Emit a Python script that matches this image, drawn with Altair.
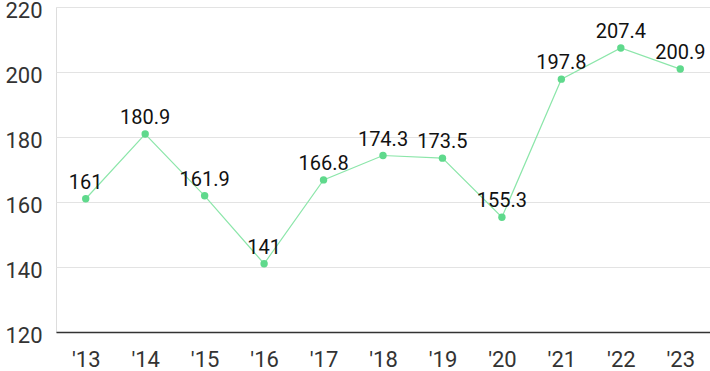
import altair as alt
import pandas as pd

years = ["'13", "'14", "'15", "'16", "'17", "'18", "'19", "'20", "'21", "'22", "'23"]
values = [161, 180.9, 161.9, 141, 166.8, 174.3, 173.5, 155.3, 197.8, 207.4, 200.9]
labels = ["161", "180.9", "161.9", "141", "166.8", "174.3", "173.5", "155.3", "197.8", "207.4", "200.9"]
y_ticks = [120, 140, 160, 180, 200, 220]

df = pd.DataFrame({"year": years, "value": values, "label": labels})

x = alt.X("year:N", sort=years, title=None,
          scale=alt.Scale(paddingInner=0, paddingOuter=0),
          axis=alt.Axis(labelAngle=0, labelFontSize=22, labelColor="#333333",
                        labelFont="Roboto", ticks=False, domain=True,
                        domainColor="#333333", domainWidth=1.5, labelPadding=17,
                        grid=False))
y = alt.Y("value:Q", title=None,
          scale=alt.Scale(domain=[120, 220], nice=False, zero=False),
          axis=alt.Axis(values=y_ticks, labelFontSize=22, labelColor="#333333",
                        labelFont="Roboto", ticks=False, domain=False,
                        gridColor="#e3e3e3", gridWidth=1, labelPadding=14,
                        labelOffset=3))

base = alt.Chart(df).encode(x=x, y=y)

line = base.mark_line(color="#8ce6aa", strokeWidth=1.2)
pts = base.mark_circle(color="#5fd98c", size=55, opacity=1)
txt = base.mark_text(font="Roboto", fontSize=20, color="#111111",
                     baseline="bottom", dy=-6).encode(text="label:N")

chart = (line + pts + txt).properties(
    width=654, height=325,
    autosize=alt.AutoSizeParams(type="none"),
    padding={"left": 56, "top": 7, "right": 0, "bottom": 39},
).configure_view(stroke=None).configure(background="white")

chart.save("out.html", embed_options={"renderer": "svg", "actions": False})
